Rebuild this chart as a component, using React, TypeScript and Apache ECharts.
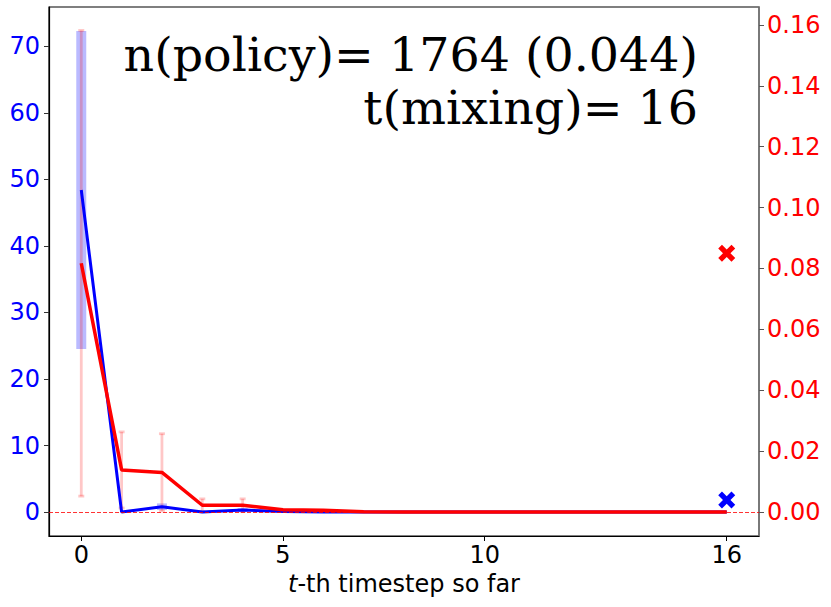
import React, { useEffect, useRef } from "react";
import * as echarts from "echarts";

const steps = [0, 1, 2, 3, 4, 5, 6, 7, 8, 9, 10, 11, 12, 13, 14, 15, 16];
const blueMean = [48.4, 0, 0.8, 0, 0.3, 0.1, 0, 0, 0, 0, 0, 0, 0, 0, 0, 0, 0];
const blueErr = [23.9, 0, 0.5, 0, 0.3, 0, 0, 0, 0, 0, 0, 0, 0, 0, 0, 0, 0];
const redMean = [0.0817, 0.0138, 0.013, 0.0022, 0.0022, 0.0007, 0.0006, 0.0001, 0, 0, 0, 0, 0, 0, 0, 0, 0];
const redErr = [0.0765, 0.0125, 0.0127, 0.0021, 0.0021, 0, 0, 0, 0, 0, 0, 0, 0, 0, 0, 0, 0];
const blueMarker = [16, 1.8];
const redMarker = [16, 0.085];
const xTicks = [0, 5, 10, 16];
const leftTicks = [0, 10, 20, 30, 40, 50, 60, 70];
const rightTicks = [0, 0.02, 0.04, 0.06, 0.08, 0.1, 0.12, 0.14, 0.16];
const textLine1 = "n(policy)= 1764 (0.044)";
const textLine2 = "t(mixing)= 16";

const X_PATH =
  "path://M2.2,0 L5,2.8 L7.8,0 L10,2.2 L7.2,5 L10,7.8 L7.8,10 L5,7.2 L2.2,10 L0,7.8 L2.8,5 L0,2.2 Z";

export default function App() {
  const ref = useRef<HTMLDivElement>(null);
  useEffect(() => {
    if (!ref.current) return;
    const chart = echarts.init(ref.current, null, { renderer: "svg" });
    const bandData = steps
      .map((x, i) => [x, blueMean[i] - blueErr[i], blueMean[i] + blueErr[i], blueErr[i]])
      .filter((d) => d[3] > 0);
    const redErrData = steps
      .map((x, i) => [x, redMean[i] - redErr[i], redMean[i] + redErr[i], redErr[i]])
      .filter((d) => d[3] > 0);
    const tickFont = { fontFamily: "DejaVu Sans", fontSize: 24 };
    chart.setOption({
      animation: false,
      backgroundColor: "#ffffff",
      grid: {
        left: 49,
        right: 72,
        top: 7,
        bottom: 71,
        show: true,
        borderColor: "#000000",
        borderWidth: 1.2,
        containLabel: false,
      },
      xAxis: {
        type: "value",
        min: -0.8,
        max: 16.8,
        splitLine: { show: false },
        axisLine: { show: true, onZero: false, lineStyle: { color: "#000", width: 1.2 } },
        axisTick: { show: true, length: 5, customValues: xTicks, lineStyle: { color: "#000" } },
        axisLabel: {
          customValues: xTicks,
          color: "#000",
          margin: 7,
          ...tickFont,
        },
        name: "{i|t}-th timestep so far",
        nameLocation: "middle",
        nameGap: 33,
        nameTextStyle: {
          color: "#000",
          ...tickFont,
          rich: { i: { fontStyle: "italic", fontFamily: "DejaVu Sans", fontSize: 24, color: "#000" } },
        },
      },
      yAxis: [
        {
          type: "value",
          position: "left",
          min: -3.6,
          max: 75.9,
          splitLine: { show: false },
          axisLine: { show: true, onZero: false, lineStyle: { color: "#000", width: 1.2 } },
          axisTick: { show: true, length: 5, customValues: leftTicks, lineStyle: { color: "#333" } },
          axisLabel: { customValues: leftTicks, color: "#0000ff", margin: 9, ...tickFont },
        },
        {
          type: "value",
          position: "right",
          min: -0.0079,
          max: 0.1659,
          alignTicks: false,
          splitLine: { show: false },
          axisLine: { show: true, onZero: false, lineStyle: { color: "#808080", width: 1.5 } },
          axisTick: { show: true, length: 5, customValues: rightTicks, lineStyle: { color: "#555" } },
          axisLabel: {
            customValues: rightTicks,
            color: "#ff0000",
            margin: 8,
            formatter: (v: number) => v.toFixed(2),
            ...tickFont,
          },
        },
      ],
      series: [
        {
          type: "custom",
          name: "blueBand",
          yAxisIndex: 0,
          z: 1,
          data: bandData,
          renderItem: (params: any, api: any) => {
            const p1 = api.coord([api.value(0), api.value(1)]);
            const p2 = api.coord([api.value(0), api.value(2)]);
            return {
              type: "line",
              shape: { x1: p1[0], y1: p1[1], x2: p2[0], y2: p2[1] },
              style: { stroke: "rgba(0,0,255,0.27)", lineWidth: 10, lineCap: "butt" },
            };
          },
        },
        {
          type: "custom",
          name: "redErr",
          yAxisIndex: 1,
          z: 2,
          data: redErrData,
          renderItem: (params: any, api: any) => {
            const p1 = api.coord([api.value(0), api.value(1)]);
            const p2 = api.coord([api.value(0), api.value(2)]);
            const c = 3;
            const st = { stroke: "rgba(255,0,0,0.22)", lineWidth: 2.8, lineCap: "butt" };
            return {
              type: "group",
              children: [
                { type: "line", shape: { x1: p1[0], y1: p1[1], x2: p2[0], y2: p2[1] }, style: st },
                { type: "line", shape: { x1: p1[0] - c, y1: p1[1], x2: p1[0] + c, y2: p1[1] }, style: st },
                { type: "line", shape: { x1: p2[0] - c, y1: p2[1], x2: p2[0] + c, y2: p2[1] }, style: st },
              ],
            };
          },
        },
        {
          type: "line",
          name: "blue",
          yAxisIndex: 0,
          z: 3,
          showSymbol: false,
          symbol: "none",
          data: steps.map((x, i) => [x, blueMean[i]]),
          lineStyle: { color: "#0000ff", width: 3 },
        },
        {
          type: "line",
          name: "red",
          yAxisIndex: 1,
          z: 4,
          showSymbol: false,
          symbol: "none",
          data: steps.map((x, i) => [x, redMean[i]]),
          lineStyle: { color: "#ff0000", width: 3.5 },
          markLine: {
            silent: true,
            symbol: "none",
            label: { show: false },
            lineStyle: { color: "rgba(255,0,0,0.8)", width: 1, type: [4, 2] },
            data: [{ yAxis: 0 }],
          },
        },
        {
          type: "scatter",
          name: "blueX",
          yAxisIndex: 0,
          z: 5,
          symbol: X_PATH,
          symbolSize: 17,
          itemStyle: { color: "#0000ff", opacity: 1 },
          data: [blueMarker],
        },
        {
          type: "scatter",
          name: "redX",
          yAxisIndex: 1,
          z: 5,
          symbol: X_PATH,
          symbolSize: 17,
          itemStyle: { color: "#ff0000", opacity: 1 },
          data: [redMarker],
        },
      ],
      graphic: [
        {
          type: "text",
          right: 133,
          top: 30,
          z: 10,
          style: {
            text: textLine1,
            fontFamily: "DejaVu Serif",
            fontSize: 47.5,
            fill: "#000",
          },
        },
        {
          type: "text",
          right: 133,
          top: 83,
          z: 10,
          style: {
            text: textLine2,
            fontFamily: "DejaVu Serif",
            fontSize: 47.5,
            fill: "#000",
          },
        },
      ],
    });
    return () => chart.dispose();
  }, []);
  return (
    <div
      ref={ref}
      style={{ position: "fixed", left: 0, top: 0, width: 831, height: 607 }}
    />
  );
}
